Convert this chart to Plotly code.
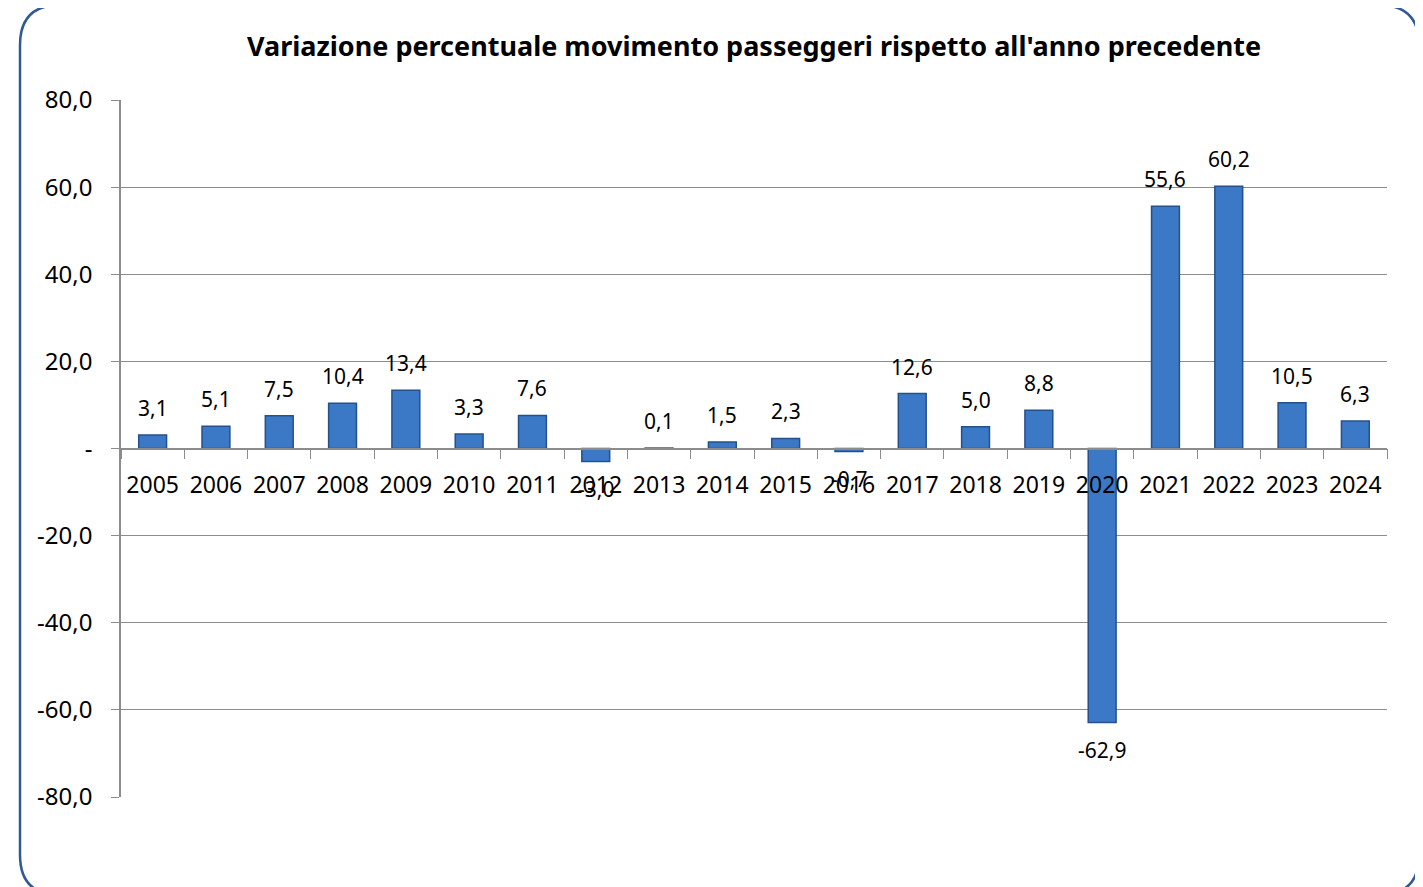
import plotly.graph_objects as go

anni = ['2005', '2006', '2007', '2008', '2009', '2010', '2011', '2012', '2013', '2014',
        '2015', '2016', '2017', '2018', '2019', '2020', '2021', '2022', '2023', '2024']
variazione = [3.1, 5.1, 7.5, 10.4, 13.4, 3.3, 7.6, -3.0, 0.1, 1.5,
              2.3, -0.7, 12.6, 5.0, 8.8, -62.9, 55.6, 60.2, 10.5, 6.3]
y_ticks = [80, 60, 40, 20, 0, -20, -40, -60, -80]
y_labels = ['80,0', '60,0', '40,0', '20,0', '-', '-20,0', '-40,0', '-60,0', '-80,0']

# the page body adds an 8px margin, so the figure is drawn 8px smaller and shifted
OFF = 8
W, H = 1423 - OFF, 887 - OFF
L, T = 121 - OFF, 100 - OFF
R, B = 36, 90
pw, ph = W - L - R, H - T - B

def px(x):
    return (x - OFF - L) / pw

def py(y):
    return (H - B - (y - OFF)) / ph

fig = go.Figure()
fig.add_trace(go.Bar(
    x=anni, y=variazione,
    marker=dict(color='#3B78C6', line=dict(color='#24508C', width=1.5)),
))

# value labels, set off from the bar ends like in the original
# (category index is used as x: numeric-looking names get read as indices)
for i, v in enumerate(variazione):
    fig.add_annotation(x=i, y=v, text=f'{v:.1f}'.replace('.', ','),
                       showarrow=False, yanchor='middle', yshift=27 if v >= 0 else -27,
                       font=dict(size=21, color='black'))

# rounded frame around the chart
x0, x1, y0, y1, r = 20, 1419, 5, 895, 40
path = (f'M {px(x0)},{py(y0 + r)} Q {px(x0)},{py(y0)} {px(x0 + r)},{py(y0)} '
        f'L {px(x1 - r)},{py(y0)} Q {px(x1)},{py(y0)} {px(x1)},{py(y0 + r)} '
        f'L {px(x1)},{py(y1 - r)} Q {px(x1)},{py(y1)} {px(x1 - r)},{py(y1)} '
        f'L {px(x0 + r)},{py(y1)} Q {px(x0)},{py(y1)} {px(x0)},{py(y1 - r)} Z')
fig.add_shape(type='path', path=path, xref='paper', yref='paper',
              line=dict(color='#2F5A96', width=2.5), layer='below')

fig.update_layout(
    width=W, height=H,
    margin=dict(l=L, r=R, t=T, b=B),
    paper_bgcolor='white', plot_bgcolor='white',
    font=dict(family='Noto Sans', size=24, color='black'),
    title=dict(text="<b>Variazione percentuale movimento passeggeri rispetto all'anno precedente</b>",
               x=0.5, xref='paper', y=1 - (47 - OFF) / H, yanchor='middle',
               font=dict(size=27, color='black')),
    bargap=0.56,
    showlegend=False,
    xaxis=dict(type='category', anchor='free', position=0.5, showline=True,
               linecolor='#8C8C8C', linewidth=1.5,
               ticks='outside', tickson='boundaries', ticklen=10, tickcolor='#8C8C8C',
               tickangle=0, ticklabelstandoff=16, showgrid=False, tickfont=dict(size=23)),
    yaxis=dict(range=[-80, 80], tickvals=y_ticks, ticktext=y_labels,
               showline=True, linecolor='#8C8C8C', linewidth=1.5,
               ticks='outside', ticklen=8, tickcolor='#8C8C8C', ticklabelstandoff=14,
               showgrid=True, gridcolor='#8C8C8C', gridwidth=1.2,
               zeroline=False, tickfont=dict(size=24)),
)

fig.write_html('out.html')
